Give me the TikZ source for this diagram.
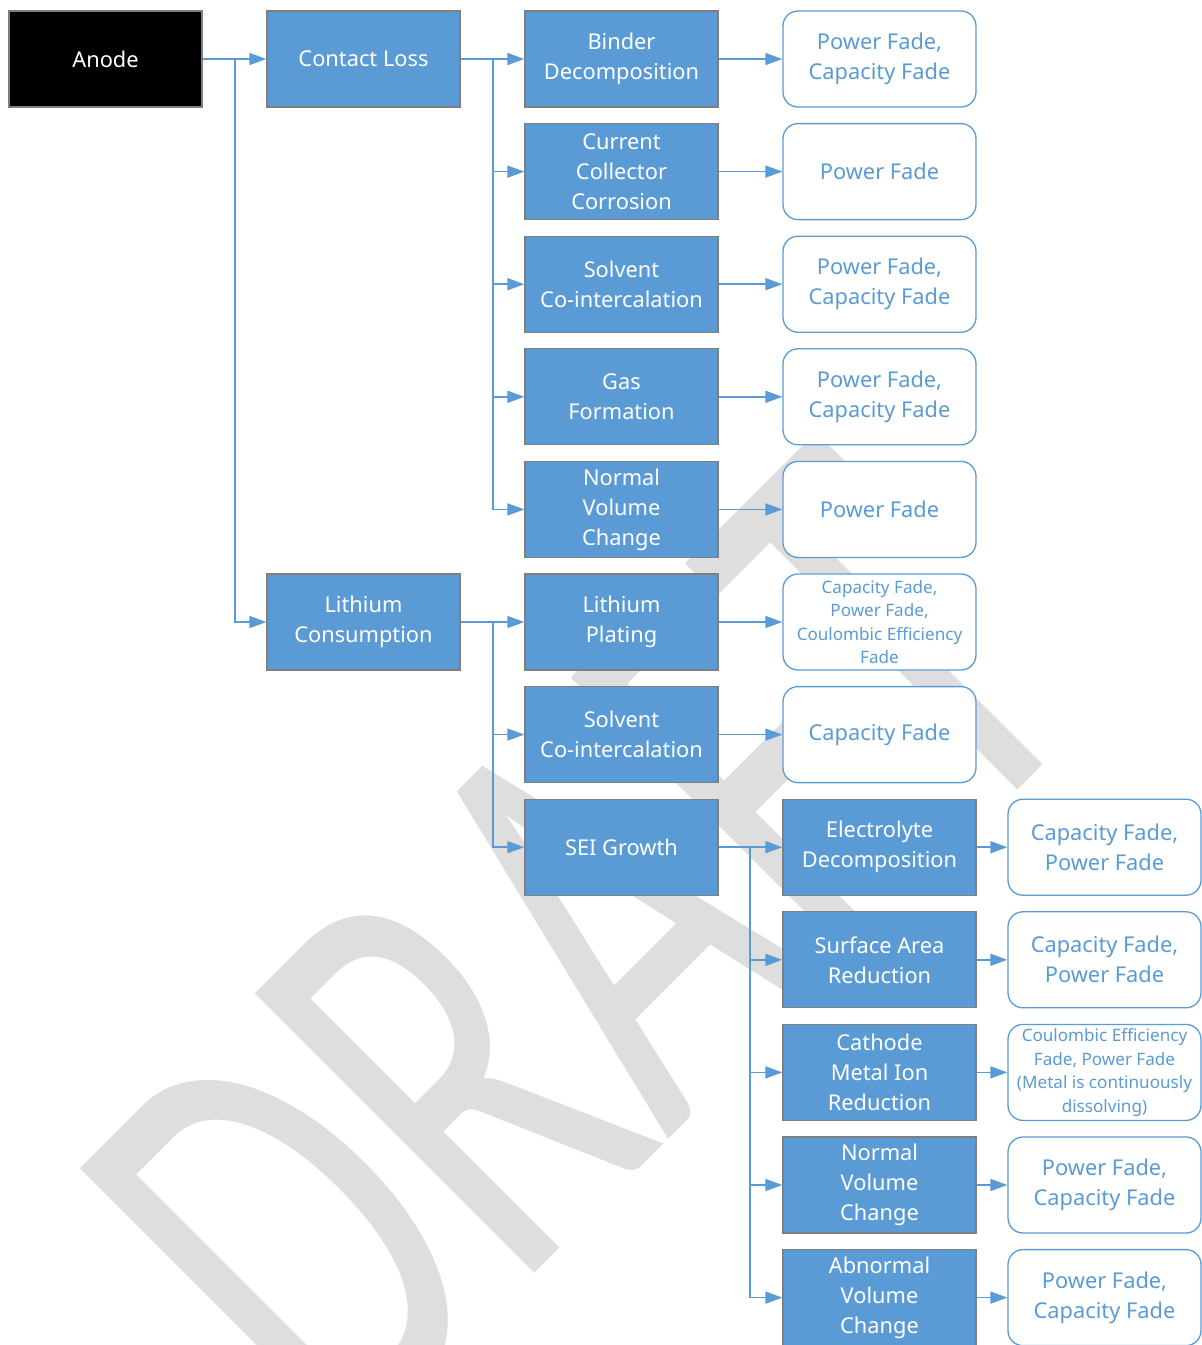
\documentclass[tikz,border=0pt]{standalone}
\usepackage{fontspec}
\setmainfont{Noto Sans}
\newfontfamily\wmfont{Carlito}
\usetikzlibrary{arrows.meta}
\definecolor{blu}{HTML}{5B9BD5}
\definecolor{bord}{HTML}{7F7F7F}
\definecolor{wmc}{HTML}{DEDEDE}
\begin{document}
\begin{tikzpicture}[x=1pt,y=-1pt,
 base/.style={minimum width=193pt, minimum height=96pt, inner sep=2pt, align=center, font=\fontsize{21.8}{30}\selectfont, line width=1.3pt},
 blk/.style={base, fill=black, draw=bord, text=white},
 bbox/.style={base, fill=blu, draw=bord, text=white},
 rbox/.style={base, fill=white, draw=blu, text=blu, rounded corners=15pt},
 small/.style={font=\fontsize{17.1}{23.5}\selectfont},
 conn/.style={draw=blu, line width=1.6pt, -{Triangle[length=17pt,width=12pt]}}]
\useasboundingbox (0,0) rectangle (1202,1345);
\clip (0,0) rectangle (1202,1345);
\fill[white] (0,0) rectangle (1202,1345);
% watermark
\begin{scope}[shift={(340,1468)}, rotate=45, yscale=1.54]
\node[transform shape, anchor=base west, text=wmc, font=\wmfont\fontsize{400}{400}\selectfont, inner sep=0pt] (wm) at (0,0) {DRAFT};
\end{scope}
% column 1-2
\node[blk] (anode) at (105.5,59) {Anode};
\node[bbox] (cl) at (363.5,59) {Contact Loss};
\node[bbox] (lc) at (363.5,622) {Lithium\\Consumption};
% column 3
\node[bbox] (b1) at (621.5,59) {Binder\\Decomposition};
\node[bbox] (b2) at (621.5,171.6) {Current\\Collector\\Corrosion};
\node[bbox] (b3) at (621.5,284.2) {Solvent\\Co-intercalation};
\node[bbox] (b4) at (621.5,396.8) {Gas\\Formation};
\node[bbox] (b5) at (621.5,509.4) {Normal\\Volume\\Change};
\node[bbox] (b6) at (621.5,622) {Lithium\\Plating};
\node[bbox] (b7) at (621.5,734.6) {Solvent\\Co-intercalation};
\node[bbox] (b8) at (621.5,847.2) {SEI Growth};
% column 4
\node[rbox] (r1) at (879.5,59) {Power Fade,\\Capacity Fade};
\node[rbox] (r2) at (879.5,171.6) {Power Fade};
\node[rbox] (r3) at (879.5,284.2) {Power Fade,\\Capacity Fade};
\node[rbox] (r4) at (879.5,396.8) {Power Fade,\\Capacity Fade};
\node[rbox] (r5) at (879.5,509.4) {Power Fade};
\node[rbox,small] (r6) at (879.5,622) {Capacity Fade,\\Power Fade,\\Coulombic Efficiency\\Fade};
\node[rbox] (r7) at (879.5,734.6) {Capacity Fade};
\node[bbox] (c8) at (879.5,847.2) {Electrolyte\\Decomposition};
\node[bbox] (c9) at (879.5,959.8) {Surface Area\\Reduction};
\node[bbox] (c10) at (879.5,1072.4) {Cathode\\Metal Ion\\Reduction};
\node[bbox] (c11) at (879.5,1185) {Normal\\Volume\\Change};
\node[bbox] (c12) at (879.5,1297.6) {Abnormal\\Volume\\Change};
% column 5
\node[rbox] (s8) at (1104.5,847.2) {Capacity Fade,\\Power Fade};
\node[rbox] (s9) at (1104.5,959.8) {Capacity Fade,\\Power Fade};
\node[rbox,small] (s10) at (1104.5,1072.4) {Coulombic Efficiency\\Fade, Power Fade\\(Metal is continuously\\dissolving)};
\node[rbox] (s11) at (1104.5,1185) {Power Fade,\\Capacity Fade};
\node[rbox] (s12) at (1104.5,1297.6) {Power Fade,\\Capacity Fade};
% connectors
\coordinate (j0) at (235,59);
\coordinate (j1) at (493,59);
\coordinate (j2) at (493,622);
\coordinate (j3) at (750,847.2);
\draw[conn] (anode.east) -- (cl.west);
\draw[conn] (j0) |- (lc.west);
\draw[conn] (cl.east) -- (b1.west);
\foreach \n in {b2,b3,b4,b5} \draw[conn] (j1) |- (\n.west);
\draw[conn] (lc.east) -- (b6.west);
\foreach \n in {b7,b8} \draw[conn] (j2) |- (\n.west);
\draw[conn] (b8.east) -- (c8.west);
\foreach \n in {c9,c10,c11,c12} \draw[conn] (j3) |- (\n.west);
\foreach \a/\b in {b1/r1,b2/r2,b3/r3,b4/r4,b5/r5,b6/r6,b7/r7,c8/s8,c9/s9,c10/s10,c11/s11,c12/s12} \draw[conn] (\a.east) -- (\b.west);
\end{tikzpicture}
\end{document}
